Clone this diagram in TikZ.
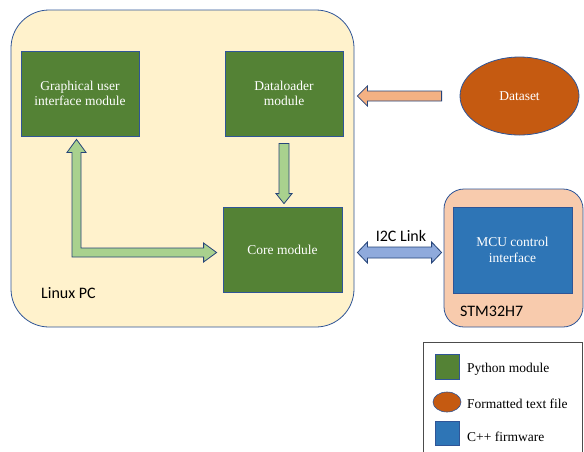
\documentclass[tikz,border=0pt]{standalone}
\usepackage{fontspec}
\setmainfont{Liberation Serif}
\newfontfamily\labelfont{Carlito}
\usetikzlibrary{calc,shapes.geometric}
\definecolor{pcfill}{HTML}{FFF2CC}
\definecolor{bordblue}{HTML}{2F5597}
\definecolor{modgreen}{HTML}{548235}
\definecolor{arrgreen}{HTML}{A9D18E}
\definecolor{dsorange}{HTML}{C55A11}
\definecolor{arrorange}{HTML}{F4B183}
\definecolor{stmfill}{HTML}{F8CBAD}
\definecolor{mcublue}{HTML}{2E75B6}
\definecolor{arrblue}{HTML}{8FAADC}
\tikzset{
  modbox/.style={draw=bordblue, line width=0.8pt, fill=modgreen, text=white,
    minimum width=118pt, minimum height=85pt, align=center, inner sep=0pt,
    font=\fontsize{13.5}{15.5}\selectfont},
  fatarrow/.style={draw=bordblue!80!black, line width=0.8pt, line join=miter},
  lbl/.style={font=\labelfont\fontsize{16}{18}\selectfont, inner sep=0pt},
  legtext/.style={font=\fontsize{13.5}{15.5}\selectfont, inner sep=0pt, anchor=base west},
}
\newcommand{\singlefat}[5]{% fill, A, B, shaft half width, head half width ; head length 10pt
  \draw[fatarrow, fill=#1] ($(#2)!#4!90:(#3)$) -- ($($(#3)!10pt!(#2)$)!#4!-90:(#2)$) -- ($($(#3)!10pt!(#2)$)!#5!-90:(#2)$) -- (#3)
    -- ($($(#3)!10pt!(#2)$)!#5!90:(#2)$) -- ($($(#3)!10pt!(#2)$)!#4!90:(#2)$) -- ($(#2)!#4!-90:(#3)$) -- cycle;
}
\begin{document}
\begin{tikzpicture}[x=1pt,y=-1pt]
\useasboundingbox[fill=white] (0,0) rectangle (584,451);

% Linux PC container
\node[draw=bordblue, line width=0.8pt, fill=pcfill, rounded corners=38pt,
  minimum width=343pt, minimum height=317pt, inner sep=0pt] (pc) at (182.5,168.5) {};
\node[lbl, anchor=base west] (pclbl) at (41,298) {Linux PC};

% STM32H7 container
\node[draw=bordblue, line width=0.8pt, fill=stmfill, rounded corners=20pt,
  minimum width=139pt, minimum height=138pt, inner sep=0pt] (stm) at (513.5,258) {};
\node[lbl, anchor=base west] (stmlbl) at (460,316) {STM32H7};

% modules
\node[modbox] (gui) at (80,93.5) {Graphical user\\interface module};
\node[modbox] (dl) at (284,93.5) {Dataloader\\module};
\node[modbox, minimum width=119pt] (core) at (282.5,249.5) {Core module};
\node[modbox, fill=mcublue, minimum width=119pt, minimum height=86pt] (mcu) at (512.5,250) {MCU control\\interface};

% dataset
\node[ellipse, draw=bordblue, line width=0.8pt, fill=dsorange, text=white,
  minimum width=119pt, minimum height=78pt, inner sep=0pt,
  font=\fontsize{13.5}{15.5}\selectfont] (ds) at (519.5,96) {Dataset};

% Dataloader -> Core
\coordinate (a1s) at ($(dl.south)+(0,7)$);
\coordinate (a1e) at ($(a1s |- core.north)+(0,-3)$);
\singlefat{arrgreen}{a1s}{a1e}{5pt}{8pt}

% Dataset -> Dataloader
\coordinate (a2s) at ($(ds.west)+(-18,0)$);
\coordinate (a2e) at ($(dl.east |- ds.west)+(14,0)$);
\singlefat{arrorange}{a2s}{a2e}{5pt}{10pt}

% GUI <-> Core (L shaped)
\coordinate (lt) at ($(gui.south)+(-3.5,3)$);
\coordinate (lr) at ($(core.west)+(-6,3)$);
\coordinate (ltin) at ($(lt)+(4.5,0)$);
\coordinate (ltout) at ($(lt)+(-4.5,0)$);
\coordinate (lrin) at ($(lr)+(0,-4.5)$);
\coordinate (lrout) at ($(lr)+(0,4.5)$);
\draw[fatarrow, fill=arrgreen] (lt) -- ($(lt)+(9.5,13)$) -- ($(lt)+(4.5,13)$)
  -- (ltin |- lrin) -- ($(lr)+(-13,-4.5)$) -- ($(lr)+(-13,-9.5)$)
  -- (lr) -- ($(lr)+(-13,9.5)$) -- ($(lr)+(-13,4.5)$) -- (ltout |- lrout)
  -- ($(lt)+(-4.5,13)$) -- ($(lt)+(-9.5,13)$) -- cycle;

% I2C link double arrow
\coordinate (il) at ($(core.east)+(15,3)$);
\coordinate (ir) at ($(stm.west)+(-2,-5.5)$);
\draw[fatarrow, fill=arrblue] (il) -- ($(il)+(10,-10.5)$) -- ($(il)+(10,-5.5)$) -- ($(ir)+(-10,-5.5)$)
  -- ($(ir)+(-10,-10.5)$) -- (ir) -- ($(ir)+(-10,10.5)$) -- ($(ir)+(-10,5.5)$)
  -- ($(il)+(10,5.5)$) -- ($(il)+(10,10.5)$) -- cycle;
\node[lbl, anchor=base] (i2c) at (401,241) {I2C Link};

% legend
\draw[black!70, line width=0.6pt] (423,452) -- (423,342) -- (582,342) -- (582,452);
\node[draw=bordblue, line width=0.6pt, fill=modgreen, minimum width=24pt, minimum height=25pt, inner sep=0pt] (lg1) at (447,366.5) {};
\node[ellipse, draw=bordblue, line width=0.6pt, fill=dsorange, minimum width=28pt, minimum height=20pt, inner sep=0pt] (lg2) at (447,402) {};
\node[draw=bordblue, line width=0.6pt, fill=mcublue, minimum width=24pt, minimum height=24pt, inner sep=0pt] (lg3) at (447,433) {};
\node[legtext] (lt1) at (467,372) {Python module};
\node[legtext] (lt2) at (467,408.5) {Formatted text file};
\node[legtext] (lt3) at (467,441) {C++ firmware};
\end{tikzpicture}
\end{document}
